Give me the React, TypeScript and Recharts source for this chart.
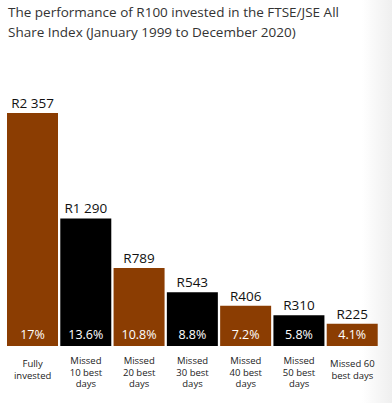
import { BarChart, Bar, XAxis, YAxis, Cell, LabelList } from 'recharts';

const categories = [
  'Fully\ninvested',
  'Missed\n10 best\ndays',
  'Missed\n20 best\ndays',
  'Missed\n30 best\ndays',
  'Missed\n40 best\ndays',
  'Missed\n50 best\ndays',
  'Missed 60\nbest days',
];
const randValues = [2357, 1290, 789, 543, 406, 310, 225];
const annualReturns = [17, 13.6, 10.8, 8.8, 7.2, 5.8, 4.1];

const data = categories.map((name, i) => ({
  name,
  value: randValues[i],
  pct: annualReturns[i],
}));

const BROWN = '#8b3d02';
const FONT = '"Open Sans", sans-serif';

const formatRand = (v: number) =>
  v >= 1000 ? `R${Math.floor(v / 1000)} ${String(v % 1000).padStart(3, '0')}` : `R${v}`;

function CategoryTick({ x, y, payload }: any) {
  const lines = String(payload.value).split('\n');
  const start = lines.length > 2 ? 18 : 21;
  return (
    <text x={x} y={y} textAnchor="middle" fontSize={9.5} fill="#222" fontFamily={FONT}>
      {lines.map((l, i) => (
        <tspan key={i} x={x} y={y + start + i * 11.5}>
          {l}
        </tspan>
      ))}
    </text>
  );
}

function PctLabel({ x, y, width, height, value }: any) {
  return (
    <text
      x={x + width / 2}
      y={y + height - 7}
      textAnchor="middle"
      fontSize={12.5}
      fill="#fff"
      fontFamily={FONT}
    >
      {`${value}%`}
    </text>
  );
}

export default function App() {
  return (
    <div style={{ position: 'absolute', left: 0, top: 0, width: 392, height: 403, background: '#fff' }}>
      <div
        style={{
          position: 'absolute',
          right: 0,
          top: 0,
          width: 30,
          height: 403,
          background: 'linear-gradient(to right, #ffffff, #efefef)',
        }}
      />
      <div
        style={{
          position: 'absolute',
          left: 8,
          top: 2,
          width: 384,
          fontFamily: FONT,
          fontSize: 13.5,
          lineHeight: '20px',
          color: '#333',
          whiteSpace: 'nowrap',
        }}
      >
        The performance of R100 invested in the FTSE/JSE All
        <br />
        Share Index (January 1999 to December 2020)
      </div>
      <div style={{ position: 'absolute', left: 0, top: 0 }}>
        <BarChart
          width={392}
          height={403}
          data={data}
          margin={{ top: 113, right: 13, bottom: 0, left: 6 }}
          barCategoryGap={1}
        >
          <XAxis
            dataKey="name"
            interval={0}
            axisLine={false}
            tickLine={false}
            tickSize={0}
            tickMargin={0}
            height={57}
            tick={<CategoryTick />}
          />
          <YAxis hide domain={[0, 2357]} />
          <Bar dataKey="value" isAnimationActive={false}>
            {data.map((_, i) => (
              <Cell key={i} fill={i % 2 === 0 ? BROWN : '#000'} />
            ))}
            <LabelList
              dataKey="value"
              position="top"
              offset={5}
              formatter={(v: any) => formatRand(Number(v))}
              style={{ fontSize: 13.5, fill: '#111', fontFamily: FONT }}
            />
            <LabelList dataKey="pct" content={<PctLabel />} />
          </Bar>
        </BarChart>
      </div>
    </div>
  );
}
